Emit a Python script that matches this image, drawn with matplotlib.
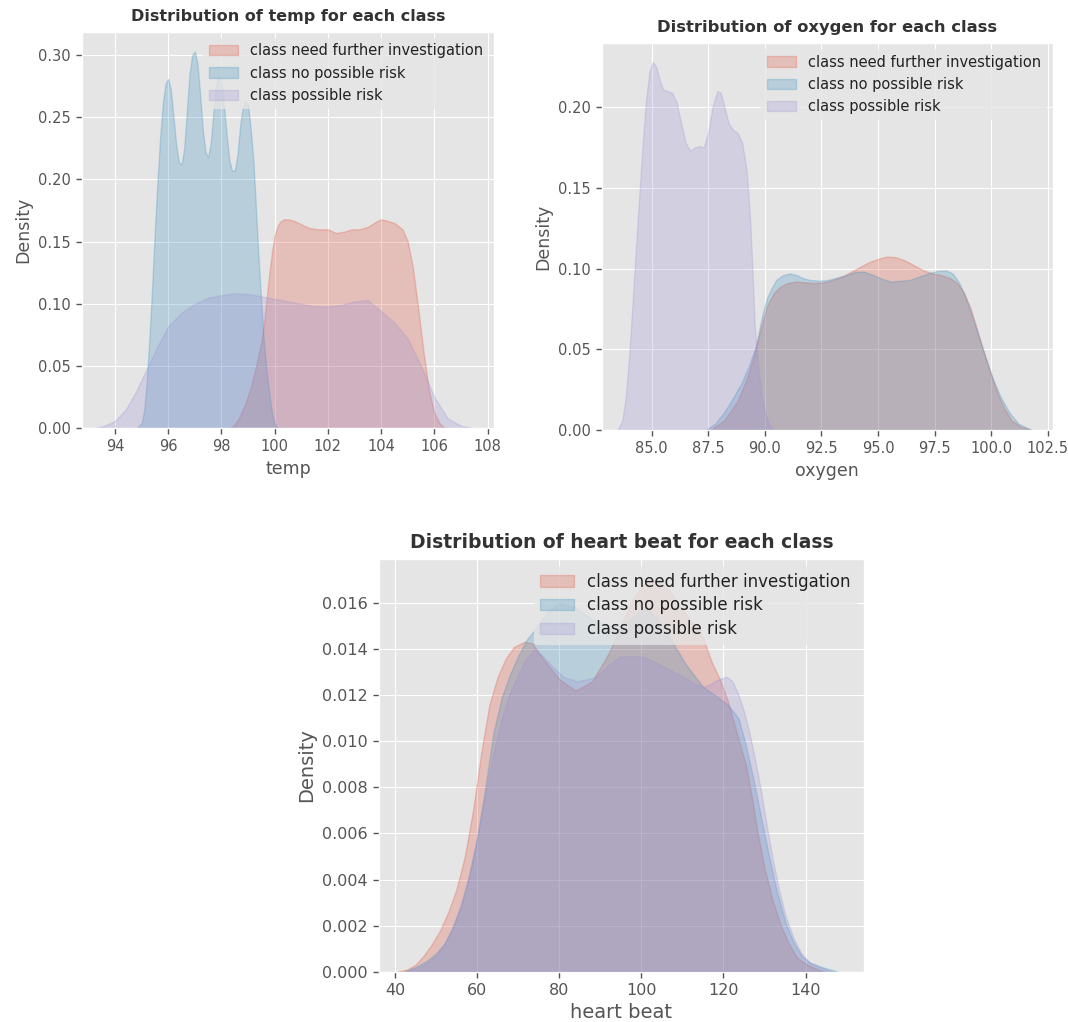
import matplotlib
matplotlib.use("Agg")
import matplotlib.pyplot as plt

plt.style.use("ggplot")

classes = ["class need further investigation", "class no possible risk", "class possible risk"]
colors = ["#E24A33", "#348ABD", "#988ED5"]

# ---- temp ----
temp_red_x = [98.3, 98.5, 98.7, 98.9, 99.1, 99.3, 99.5, 99.6, 99.7, 99.8, 99.9, 100.0, 100.1, 100.2,
              100.35, 100.5, 100.7, 101.0, 101.3, 101.6, 102.0, 102.3, 102.6, 102.9, 103.2, 103.5,
              103.8, 104.0, 104.2, 104.5, 104.8, 105.0, 105.2, 105.4, 105.6, 105.8, 106.0, 106.2, 106.4]
temp_red_y = [0.0, 0.003, 0.01, 0.02, 0.033, 0.05, 0.07, 0.085, 0.105, 0.125, 0.142, 0.155, 0.162, 0.166,
              0.168, 0.168, 0.167, 0.164, 0.161, 0.160, 0.160, 0.157, 0.158, 0.160, 0.160, 0.162,
              0.166, 0.168, 0.167, 0.165, 0.160, 0.150, 0.128, 0.095, 0.060, 0.030, 0.012, 0.004, 0.0]
temp_blue_x = [94.8, 95.0, 95.1, 95.2, 95.3, 95.4, 95.5, 95.6, 95.7, 95.8, 95.9, 96.0, 96.1, 96.2, 96.3,
               96.4, 96.5, 96.6, 96.7, 96.8, 96.9, 97.0, 97.1, 97.2, 97.3, 97.4, 97.5, 97.6, 97.7, 97.8,
               97.9, 98.0, 98.1, 98.2, 98.3, 98.4, 98.5, 98.6, 98.7, 98.8, 98.9, 99.0, 99.1, 99.2, 99.3,
               99.4, 99.5, 99.6, 99.7, 99.8, 99.9, 100.0, 100.1]
temp_blue_y = [0.0, 0.004, 0.015, 0.04, 0.075, 0.115, 0.16, 0.20, 0.235, 0.262, 0.277, 0.281, 0.272, 0.250,
               0.228, 0.214, 0.212, 0.225, 0.255, 0.285, 0.300, 0.303, 0.293, 0.268, 0.240, 0.222, 0.218,
               0.230, 0.255, 0.275, 0.283, 0.278, 0.258, 0.235, 0.215, 0.207, 0.207, 0.220, 0.243, 0.258,
               0.263, 0.260, 0.240, 0.215, 0.175, 0.135, 0.100, 0.068, 0.045, 0.027, 0.012, 0.004, 0.0]
temp_purple_x = [93.2, 93.6, 94.0, 94.4, 94.8, 95.2, 95.6, 96.0, 96.5, 97.0, 97.5, 98.0, 98.5, 99.0, 99.5,
                 100.0, 100.5, 101.0, 101.5, 102.0, 102.5, 103.0, 103.5, 104.0, 104.5, 105.0, 105.5,
                 106.0, 106.5, 107.0, 107.5]
temp_purple_y = [0.0, 0.002, 0.006, 0.015, 0.03, 0.048, 0.066, 0.082, 0.093, 0.100, 0.105, 0.107, 0.1085,
                 0.108, 0.106, 0.104, 0.102, 0.100, 0.098, 0.098, 0.099, 0.102, 0.103, 0.094, 0.085,
                 0.072, 0.050, 0.025, 0.008, 0.002, 0.0]

# ---- oxygen ----
oxy_red_x = [87.6, 88.2, 88.8, 89.2, 89.5, 89.8, 90.1, 90.4, 90.7, 91.0, 91.4, 91.8, 92.2, 92.6, 93.0,
             93.4, 93.8, 94.2, 94.6, 95.0, 95.4, 95.8, 96.2, 96.6, 97.0, 97.4, 97.8, 98.2, 98.5, 98.8,
             99.1, 99.4, 99.7, 100.0, 100.3, 100.6, 100.9, 101.3, 101.8]
oxy_red_y = [0.0, 0.006, 0.018, 0.032, 0.045, 0.062, 0.077, 0.085, 0.089, 0.091, 0.092, 0.0915, 0.091,
             0.0915, 0.093, 0.095, 0.098, 0.101, 0.104, 0.106, 0.1075, 0.107, 0.105, 0.102, 0.099, 0.097,
             0.096, 0.094, 0.091, 0.085, 0.075, 0.061, 0.047, 0.034, 0.022, 0.013, 0.006, 0.002, 0.0]
oxy_blue_x = [87.4, 87.8, 88.2, 88.6, 89.0, 89.3, 89.6, 89.9, 90.1, 90.3, 90.5, 90.8, 91.1, 91.4, 91.7,
              92.0, 92.4, 92.8, 93.2, 93.6, 94.0, 94.4, 94.8, 95.2, 95.6, 96.0, 96.4, 96.8, 97.2, 97.6,
              98.0, 98.3, 98.6, 98.9, 99.2, 99.5, 99.8, 100.1, 100.4, 100.8, 101.2, 101.8]
oxy_blue_y = [0.0, 0.004, 0.011, 0.02, 0.03, 0.04, 0.052, 0.072, 0.082, 0.088, 0.093, 0.096, 0.097, 0.096,
              0.094, 0.093, 0.0925, 0.093, 0.0945, 0.096, 0.098, 0.098, 0.096, 0.0935, 0.092, 0.0925,
              0.093, 0.095, 0.097, 0.0985, 0.099, 0.097, 0.091, 0.081, 0.069, 0.056, 0.043, 0.031, 0.021,
              0.011, 0.004, 0.0]
oxy_purple_x = [83.5, 83.7, 83.85, 84.0, 84.15, 84.3, 84.45, 84.6, 84.75, 84.9, 85.05, 85.2, 85.35, 85.5,
                85.7, 85.9, 86.1, 86.3, 86.5, 86.7, 86.9, 87.1, 87.3, 87.5, 87.7, 87.9, 88.05, 88.2, 88.4,
                88.6, 88.8, 89.0, 89.2, 89.35, 89.45, 89.55, 89.7, 89.85, 90.0, 90.2, 90.4]
oxy_purple_y = [0.0, 0.006, 0.02, 0.045, 0.078, 0.112, 0.145, 0.177, 0.205, 0.222, 0.228, 0.225, 0.217,
                0.211, 0.210, 0.209, 0.203, 0.19, 0.178, 0.173, 0.175, 0.176, 0.175, 0.185, 0.201, 0.21,
                0.209, 0.201, 0.19, 0.186, 0.184, 0.178, 0.16, 0.13, 0.10, 0.065, 0.040, 0.022, 0.010,
                0.003, 0.0]

# ---- heart beat ----
hb_red_x = [40.5, 43, 45, 47, 49, 51, 53, 55, 57, 59, 61, 63, 65, 67, 69, 71.5, 73.5, 76, 80, 84, 88,
            92, 95, 98, 101, 104, 107, 110, 113, 115.1, 117, 119.2, 121, 122.4, 124, 125.6, 127, 128.4,
            130, 132, 134, 136, 138, 140.5, 143, 145]
hb_red_y = [0.0, 0.0001, 0.0003, 0.0007, 0.0012, 0.0018, 0.0026, 0.0036, 0.0050, 0.0070, 0.0095, 0.0116,
            0.0128, 0.0136, 0.0141, 0.01432, 0.01425, 0.0136, 0.0127, 0.0122, 0.0126, 0.0138, 0.0150,
            0.0162, 0.0169, 0.0170, 0.0165, 0.0157, 0.0150, 0.01447, 0.0135, 0.01266, 0.0118, 0.0109,
            0.0099, 0.0089, 0.0075, 0.0060, 0.0045, 0.0031, 0.0020, 0.0012, 0.0006, 0.0003, 0.0001, 0.0]
hb_blue_x = [42, 45, 48, 50, 52, 54, 56, 58, 60, 62, 64, 66, 68, 70, 72, 74.3, 77, 80, 84, 88, 92, 95,
             98, 101, 104, 107, 111, 115, 118, 121, 123.7, 125.5, 127.5, 129.3, 131, 133, 135, 137, 139,
             141, 144, 148]
hb_blue_y = [0.0, 0.0002, 0.0005, 0.0008, 0.0012, 0.0019, 0.0028, 0.0041, 0.0058, 0.0080, 0.0104, 0.0119,
             0.0129, 0.0137, 0.0144, 0.0149, 0.0156, 0.0160, 0.0158, 0.0153, 0.0150, 0.0150, 0.0154,
             0.0158, 0.0153, 0.01447, 0.0133, 0.01237, 0.0120, 0.0116, 0.0110, 0.0098, 0.0082, 0.0066,
             0.0051, 0.0035, 0.0022, 0.0013, 0.0007, 0.0004, 0.0002, 0.0]
hb_purple_x = [43, 46, 48, 50, 52, 54, 56, 58, 60, 62, 64, 66, 68, 70, 72, 74, 76, 78.6, 81, 84.3, 87, 89,
               92, 94.8, 97.5, 100.5, 103.75, 107, 110.2, 113, 115.1, 117, 118.4, 120.8, 122.2, 123.5,
               125, 126.3, 127.5, 129, 130.5, 132, 133.5, 135, 137, 139, 141, 143.5, 146.5]
hb_purple_y = [0.0, 0.0002, 0.0004, 0.0007, 0.0012, 0.0019, 0.0029, 0.0042, 0.0058, 0.0077, 0.0095, 0.0110,
               0.0121, 0.0129, 0.0136, 0.0140, 0.0137, 0.0132, 0.0128, 0.0126, 0.0127, 0.0128, 0.0133,
               0.01367, 0.0137, 0.01367, 0.0134, 0.0131, 0.0128, 0.0125, 0.01237, 0.0125, 0.01266,
               0.0128, 0.0126, 0.0121, 0.0113, 0.0104, 0.0094, 0.0080, 0.0064, 0.0049, 0.0036, 0.0025,
               0.0015, 0.0008, 0.0004, 0.0002, 0.0]

temp_xticks = [94, 96, 98, 100, 102, 104, 106, 108]
temp_yticks = [0.00, 0.05, 0.10, 0.15, 0.20, 0.25, 0.30]
oxy_xticks = [85.0, 87.5, 90.0, 92.5, 95.0, 97.5, 100.0, 102.5]
oxy_yticks = [0.00, 0.05, 0.10, 0.15, 0.20]
hb_xticks = [40, 60, 80, 100, 120, 140]
hb_yticks = [0.000, 0.002, 0.004, 0.006, 0.008, 0.010, 0.012, 0.014, 0.016]

W, H = 1068, 1022
fig = plt.figure(figsize=(W / 100, H / 100), dpi=100)
fig.patch.set_facecolor("white")


def px_axes(l, t, r, b):
    return fig.add_axes([l / W, 1 - b / H, (r - l) / W, (b - t) / H])


def draw(ax, series, name, xlim, ylim, xticks, yticks, xfmt, yfmt, fs_tick, fs_leg, fs_lab, fs_title,
         lab_spacing):
    for (x, y), lab, c in zip(series, classes, colors):
        ax.fill_between(x, y, 0, color=c, alpha=0.25, linewidth=1.0, label=lab)
    ax.set_xlim(*xlim)
    ax.set_ylim(*ylim)
    ax.set_xticks(xticks)
    ax.set_xticklabels([xfmt.format(v) for v in xticks])
    ax.set_yticks(yticks)
    ax.set_yticklabels([yfmt.format(v) for v in yticks])
    ax.tick_params(labelsize=fs_tick, colors="#555555", length=4.5, width=1.0, direction="out")
    ax.set_xlabel(name, fontsize=fs_lab, color="#555555")
    ax.set_ylabel("Density", fontsize=fs_lab, color="#555555")
    ax.set_title(f"Distribution of {name} for each class", fontsize=fs_title,
                 fontweight="bold", color="#333333", pad=8)
    leg = ax.legend(loc="upper right", fontsize=fs_leg, frameon=True, framealpha=0.8,
                    facecolor="#E5E5E5", edgecolor="none", borderaxespad=0.4,
                    handlelength=2.0, labelspacing=lab_spacing)
    for t in leg.get_texts():
        t.set_color("#222222")


ax1 = px_axes(81.7, 31.7, 494.3, 428.3)
draw(ax1, [(temp_red_x, temp_red_y), (temp_blue_x, temp_blue_y), (temp_purple_x, temp_purple_y)],
     "temp", (92.75, 108.25), (0, 0.3188), temp_xticks, temp_yticks, "{:.0f}", "{:.2f}",
     10.5, 10.5, 12.5, 11.5, 0.5)

ax2 = px_axes(601.7, 43, 1052.7, 430)
draw(ax2, [(oxy_red_x, oxy_red_y), (oxy_blue_x, oxy_blue_y), (oxy_purple_x, oxy_purple_y)],
     "oxygen", (82.79, 102.72), (0, 0.2398), oxy_xticks, oxy_yticks, "{:.1f}", "{:.2f}",
     10.5, 10.5, 12.5, 11.8, 0.5)

ax3 = px_axes(379, 559.3, 864, 971.7)
draw(ax3, [(hb_red_x, hb_red_y), (hb_blue_x, hb_blue_y), (hb_purple_x, hb_purple_y)],
     "heart beat", (36.1, 154.25), (0, 0.0179), hb_xticks, hb_yticks, "{:.0f}", "{:.3f}",
     11.5, 12, 14, 13.5, 0.35)

fig.savefig("out.png", dpi=100, facecolor="white")
